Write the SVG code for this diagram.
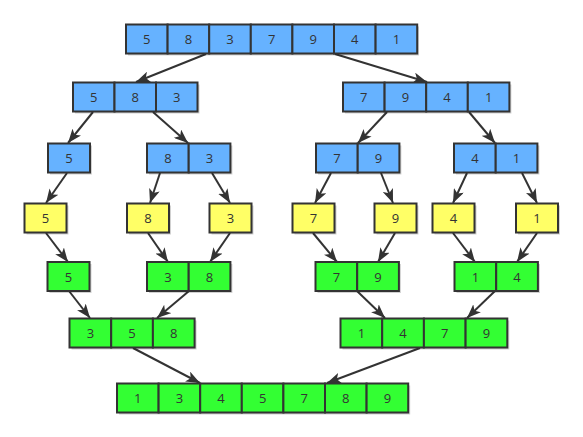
<svg xmlns="http://www.w3.org/2000/svg" width="583" height="437" viewBox="0 0 583 437">
<style>
.c{stroke:#333;stroke-width:2}
.b{fill:#66b2ff}
.y{fill:#ffff66}
.g{fill:#33ff33}
.sh{fill:#000;opacity:.18}
text{font-family:"Open Sans","Noto Sans","Liberation Sans",sans-serif;font-size:13px;fill:#333;text-anchor:middle;dominant-baseline:central}
.e{stroke:#333;stroke-width:2;fill:none;marker-end:url(#ah)}
</style>
<defs>
<marker id="ah" viewBox="0 0 14 11" refX="14" refY="5.5" markerWidth="14" markerHeight="11" markerUnits="userSpaceOnUse" orient="auto">
<path d="M0,0 L14,5.5 L0,11 L3.5,5.5 Z" fill="#333"/>
</marker>
</defs>
<rect width="583" height="437" fill="#fff"/>

<g id="connectors">
<path class="e" d="M206,54 L136,82"/>
<path class="e" d="M335,54 L427,82"/>
<path class="e" d="M93,112 L68,143"/>
<path class="e" d="M153,112 L188,143"/>
<path class="e" d="M387,112 L358,143"/>
<path class="e" d="M469,112 L495,143"/>
<path class="e" d="M67,173 L46,203"/>
<path class="e" d="M160,173 L150,203"/>
<path class="e" d="M212,173 L230,203"/>
<path class="e" d="M331,173 L315,203"/>
<path class="e" d="M381,173 L393,203"/>
<path class="e" d="M467,173 L453,203"/>
<path class="e" d="M522,173 L537,203"/>
<path class="e" d="M46,233 L68,262"/>
<path class="e" d="M148,233 L168,262"/>
<path class="e" d="M230,233 L210,262"/>
<path class="e" d="M313,233 L337,262"/>
<path class="e" d="M395,233 L378,262"/>
<path class="e" d="M453,233 L475,262"/>
<path class="e" d="M537,233 L517,262"/>
<path class="e" d="M69,291 L90,318"/>
<path class="e" d="M189,291 L157,318"/>
<path class="e" d="M357,291 L385,318"/>
<path class="e" d="M495,291 L467,318"/>
<path class="e" d="M133,348 L200,383"/>
<path class="e" d="M420,348 L327,383"/>
</g>

<g id="n_top" transform="translate(126,24.5)">
<rect class="sh" x="2" y="2" width="291" height="29"/>
<rect class="c b" x="0" y="0" width="41.6" height="29"/><text x="20.8" y="14.5">5</text>
<rect class="c b" x="41.6" y="0" width="41.6" height="29"/><text x="62.4" y="14.5">8</text>
<rect class="c b" x="83.2" y="0" width="41.6" height="29"/><text x="104" y="14.5">3</text>
<rect class="c b" x="124.8" y="0" width="41.6" height="29"/><text x="145.6" y="14.5">7</text>
<rect class="c b" x="166.4" y="0" width="41.6" height="29"/><text x="187.2" y="14.5">9</text>
<rect class="c b" x="208" y="0" width="41.6" height="29"/><text x="228.8" y="14.5">4</text>
<rect class="c b" x="249.6" y="0" width="41.6" height="29"/><text x="270.4" y="14.5">1</text>
</g>

<g id="n_l2" transform="translate(73,82.5)">
<rect class="sh" x="2" y="2" width="124.5" height="29"/>
<rect class="c b" x="0" y="0" width="41.5" height="29"/><text x="20.75" y="14.5">5</text>
<rect class="c b" x="41.5" y="0" width="41.5" height="29"/><text x="62.25" y="14.5">8</text>
<rect class="c b" x="83" y="0" width="41.5" height="29"/><text x="103.75" y="14.5">3</text>
</g>

<g id="n_r2" transform="translate(343,82.5)">
<rect class="sh" x="2" y="2" width="166.4" height="29"/>
<rect class="c b" x="0" y="0" width="41.6" height="29"/><text x="20.8" y="14.5">7</text>
<rect class="c b" x="41.6" y="0" width="41.6" height="29"/><text x="62.4" y="14.5">9</text>
<rect class="c b" x="83.2" y="0" width="41.6" height="29"/><text x="104" y="14.5">4</text>
<rect class="c b" x="124.8" y="0" width="41.6" height="29"/><text x="145.6" y="14.5">1</text>
</g>

<g id="n_3a" transform="translate(48,143.5)">
<rect class="sh" x="2" y="2" width="42" height="29"/>
<rect class="c b" x="0" y="0" width="42" height="29"/><text x="21" y="14.5">5</text>
</g>
<g id="n_3b" transform="translate(147,143.5)">
<rect class="sh" x="2" y="2" width="83.4" height="29"/>
<rect class="c b" x="0" y="0" width="41.7" height="29"/><text x="20.85" y="14.5">8</text>
<rect class="c b" x="41.7" y="0" width="41.7" height="29"/><text x="62.55" y="14.5">3</text>
</g>
<g id="n_3c" transform="translate(316,143.5)">
<rect class="sh" x="2" y="2" width="83.4" height="29"/>
<rect class="c b" x="0" y="0" width="41.7" height="29"/><text x="20.85" y="14.5">7</text>
<rect class="c b" x="41.7" y="0" width="41.7" height="29"/><text x="62.55" y="14.5">9</text>
</g>
<g id="n_3d" transform="translate(454,143.5)">
<rect class="sh" x="2" y="2" width="83.4" height="29"/>
<rect class="c b" x="0" y="0" width="41.7" height="29"/><text x="20.85" y="14.5">4</text>
<rect class="c b" x="41.7" y="0" width="41.7" height="29"/><text x="62.55" y="14.5">1</text>
</g>

<g id="n_y5" transform="translate(24.5,203.5)"><rect class="sh" x="2" y="2" width="42" height="29"/><rect class="c y" width="42" height="29"/><text x="21" y="14.5">5</text></g>
<g id="n_y8" transform="translate(127,203.5)"><rect class="sh" x="2" y="2" width="42" height="29"/><rect class="c y" width="42" height="29"/><text x="21" y="14.5">8</text></g>
<g id="n_y3" transform="translate(209.5,203.5)"><rect class="sh" x="2" y="2" width="42" height="29"/><rect class="c y" width="42" height="29"/><text x="21" y="14.5">3</text></g>
<g id="n_y7" transform="translate(292.5,203.5)"><rect class="sh" x="2" y="2" width="42" height="29"/><rect class="c y" width="42" height="29"/><text x="21" y="14.5">7</text></g>
<g id="n_y9" transform="translate(374.5,203.5)"><rect class="sh" x="2" y="2" width="42" height="29"/><rect class="c y" width="42" height="29"/><text x="21" y="14.5">9</text></g>
<g id="n_y4" transform="translate(432.5,203.5)"><rect class="sh" x="2" y="2" width="42" height="29"/><rect class="c y" width="42" height="29"/><text x="21" y="14.5">4</text></g>
<g id="n_y1" transform="translate(516,203.5)"><rect class="sh" x="2" y="2" width="42" height="29"/><rect class="c y" width="42" height="29"/><text x="21" y="14.5">1</text></g>

<g id="n_5a" transform="translate(47.5,262)">
<rect class="sh" x="2" y="2" width="42" height="29"/>
<rect class="c g" width="42" height="29"/><text x="21" y="14.5">5</text>
</g>
<g id="n_5b" transform="translate(147,262)">
<rect class="sh" x="2" y="2" width="83.4" height="29"/>
<rect class="c g" x="0" y="0" width="41.7" height="29"/><text x="20.85" y="14.5">3</text>
<rect class="c g" x="41.7" y="0" width="41.7" height="29"/><text x="62.55" y="14.5">8</text>
</g>
<g id="n_5c" transform="translate(315.5,262)">
<rect class="sh" x="2" y="2" width="83.4" height="29"/>
<rect class="c g" x="0" y="0" width="41.7" height="29"/><text x="20.85" y="14.5">7</text>
<rect class="c g" x="41.7" y="0" width="41.7" height="29"/><text x="62.55" y="14.5">9</text>
</g>
<g id="n_5d" transform="translate(454.5,262)">
<rect class="sh" x="2" y="2" width="83.4" height="29"/>
<rect class="c g" x="0" y="0" width="41.7" height="29"/><text x="20.85" y="14.5">1</text>
<rect class="c g" x="41.7" y="0" width="41.7" height="29"/><text x="62.55" y="14.5">4</text>
</g>

<g id="n_6a" transform="translate(69.5,318.5)">
<rect class="sh" x="2" y="2" width="125.1" height="29"/>
<rect class="c g" x="0" y="0" width="41.7" height="29"/><text x="20.85" y="14.5">3</text>
<rect class="c g" x="41.7" y="0" width="41.7" height="29"/><text x="62.55" y="14.5">5</text>
<rect class="c g" x="83.4" y="0" width="41.7" height="29"/><text x="104.25" y="14.5">8</text>
</g>
<g id="n_6b" transform="translate(340.5,318.5)">
<rect class="sh" x="2" y="2" width="166.8" height="29"/>
<rect class="c g" x="0" y="0" width="41.7" height="29"/><text x="20.85" y="14.5">1</text>
<rect class="c g" x="41.7" y="0" width="41.7" height="29"/><text x="62.55" y="14.5">4</text>
<rect class="c g" x="83.4" y="0" width="41.7" height="29"/><text x="104.25" y="14.5">7</text>
<rect class="c g" x="125.1" y="0" width="41.7" height="29"/><text x="145.95" y="14.5">9</text>
</g>

<g id="n_bottom" transform="translate(117,383.5)">
<rect class="sh" x="2" y="2" width="291.2" height="29"/>
<rect class="c g" x="0" y="0" width="41.6" height="29"/><text x="20.8" y="14.5">1</text>
<rect class="c g" x="41.6" y="0" width="41.6" height="29"/><text x="62.4" y="14.5">3</text>
<rect class="c g" x="83.2" y="0" width="41.6" height="29"/><text x="104" y="14.5">4</text>
<rect class="c g" x="124.8" y="0" width="41.6" height="29"/><text x="145.6" y="14.5">5</text>
<rect class="c g" x="166.4" y="0" width="41.6" height="29"/><text x="187.2" y="14.5">7</text>
<rect class="c g" x="208" y="0" width="41.6" height="29"/><text x="228.8" y="14.5">8</text>
<rect class="c g" x="249.6" y="0" width="41.6" height="29"/><text x="270.4" y="14.5">9</text>
</g>
</svg>
